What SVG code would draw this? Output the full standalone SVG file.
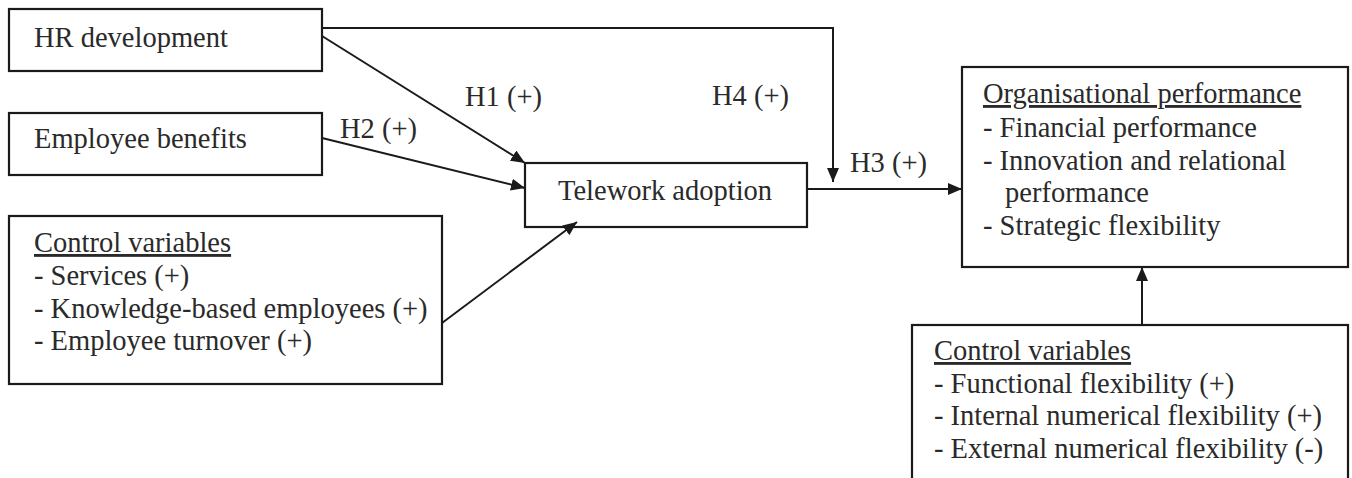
<svg xmlns="http://www.w3.org/2000/svg" width="1352" height="478" viewBox="0 0 1352 478">
<defs>
<marker id="arr" markerWidth="14" markerHeight="12" refX="14" refY="6" orient="auto" markerUnits="userSpaceOnUse">
<path d="M0,0 L14,6 L0,12 z" fill="#1a1a1a"/>
</marker>
</defs>
<style>
.box{fill:#fff;stroke:#1a1a1a;stroke-width:2.2}
.c{fill:none;stroke:#1a1a1a;stroke-width:2}
.t{font-family:'Liberation Serif','Times New Roman',serif;font-size:28.5px;fill:#2a2a2a}
.u{text-decoration:underline}
</style>
<rect width="1352" height="478" fill="#fff"/>
<g id="hr"><rect class="box" x="9" y="9" width="313" height="62"/><text class="t" x="34" y="47">HR development</text></g>
<g id="benefits"><rect class="box" x="9" y="113" width="313" height="62"/><text class="t" x="34" y="148">Employee benefits</text></g>
<g id="control1"><rect class="box" x="9" y="216" width="433" height="168"/>
<text class="t u" x="34" y="252">Control variables</text>
<text class="t" x="34" y="285">- Services (+)</text>
<text class="t" x="34" y="318">- Knowledge-based employees (+)</text>
<text class="t" x="34" y="350">- Employee turnover (+)</text></g>
<g id="telework"><rect class="box" x="525" y="163" width="282" height="64"/><text class="t" x="558" y="200">Telework adoption</text></g>
<g id="orgperf"><rect class="box" x="962" y="67" width="386" height="200"/>
<text class="t u" x="983" y="103">Organisational performance</text>
<text class="t" x="983" y="137">- Financial performance</text>
<text class="t" x="983" y="170">- Innovation and relational</text>
<text class="t" x="1005" y="202">performance</text>
<text class="t" x="983" y="235">- Strategic flexibility</text></g>
<g id="control2"><rect class="box" x="912" y="325" width="436" height="160"/>
<text class="t u" x="934" y="360">Control variables</text>
<text class="t" x="934" y="393">- Functional flexibility (+)</text>
<text class="t" x="934" y="425">- Internal numerical flexibility (+)</text>
<text class="t" x="934" y="458">- External numerical flexibility (-)</text></g>
<g id="connectors">
<path class="c" d="M322,28 H833 V182" marker-end="url(#arr)"/>
<path class="c" d="M322,36 L525,163" marker-end="url(#arr)"/>
<path class="c" d="M322,138 L525,188" marker-end="url(#arr)"/>
<path class="c" d="M442,323 L577,222" marker-end="url(#arr)"/>
<path class="c" d="M807,189 H962" marker-end="url(#arr)"/>
<path class="c" d="M1142,325 V267" marker-end="url(#arr)"/>
</g>
<g id="labels">
<text class="t" x="465" y="106">H1 (+)</text>
<text class="t" x="340" y="138">H2 (+)</text>
<text class="t" x="712" y="105">H4 (+)</text>
<text class="t" x="850" y="172">H3 (+)</text>
</g>
</svg>
